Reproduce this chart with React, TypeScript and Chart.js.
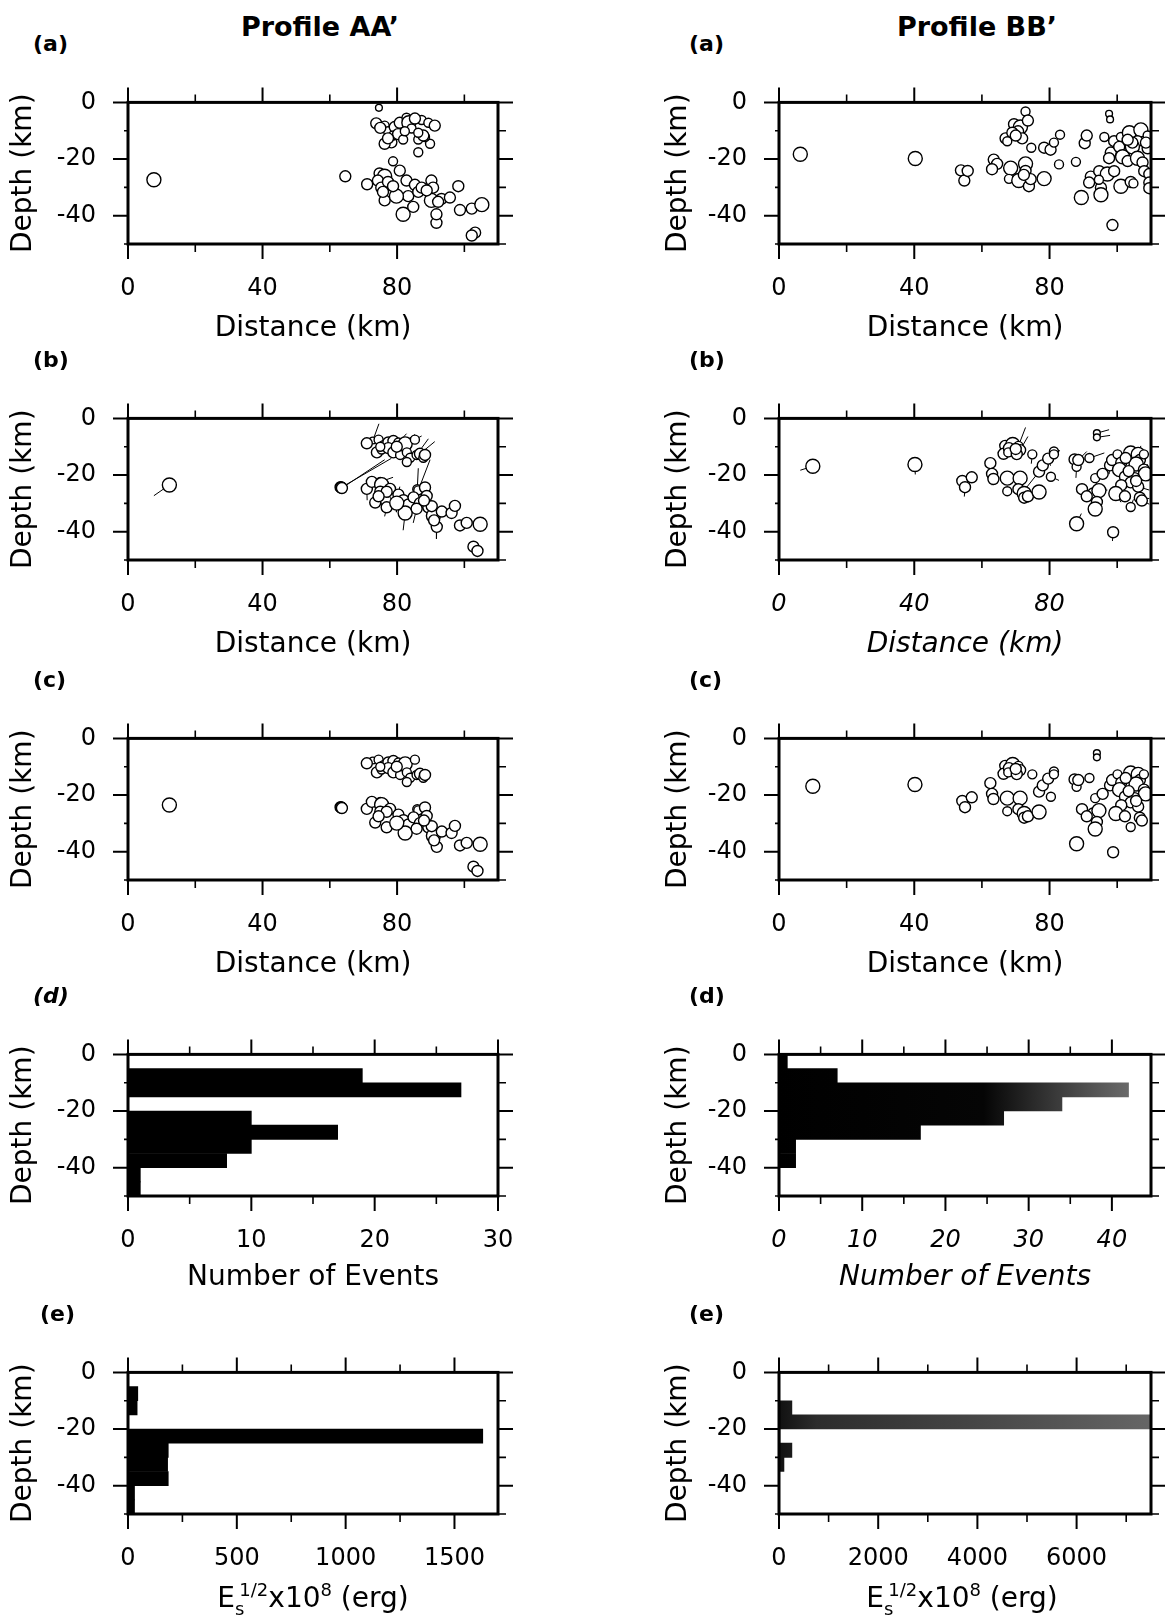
import React, { useEffect, useRef } from "react";
import { Chart, registerables } from "chart.js";

Chart.register(...registerables);

/* ======================= DATA ======================= */
// Profile AA' : catalogue hypocentres (panel a) and relocated hypocentres (panel c)
const aaCatDist = [7.7, 64.6, 74.6, 78.3, 76.3, 86.3, 89.8,
  73.8, 76.3, 77.3, 79.3, 80.8, 82.8, 83.5, 87.3, 75.0, 78.8, 80.3, 77.3, 81.8, 84.3, 86.3, 89.3, 91.2, 88.3, 87.8, 86.3, 82.3, 85.3,
  71.1, 74.8, 78.8, 76.3, 74.3, 75.3, 76.3, 77.3, 80.8, 82.8, 83.3, 81.8, 85.3, 86.3, 90.2, 87.3, 90.7, 90.2, 91.7, 93.2, 95.7, 98.2, 98.7, 102.2, 105.2, 103.2, 102.2, 79.8, 84.8, 78.8, 92.2, 91.7, 75.8, 88.8];
const aaCatDepth = [-27.3, -26.1, -1.9, -14.1, -14.6, -17.6, -14.6,
  -7.4, -8.2, -10.2, -8.7, -7.2, -5.4, -7.2, -6.2, -9.0, -11.7, -11.2, -12.7, -13.1, -9.2, -13.1, -7.2, -8.2, -12.2, -11.7, -10.7, -10.2, -5.7,
  -28.9, -25.1, -20.8, -26.1, -27.6, -30.1, -34.6, -28.1, -24.1, -27.6, -33.1, -39.5, -29.1, -31.6, -27.6, -30.1, -30.1, -34.6, -42.5, -34.1, -33.6, -29.6, -38.0, -37.5, -36.1, -46.0, -47.0, -33.1, -36.9, -29.6, -35.1, -39.5, -31.6, -31.1];
const aaRelDist = [12.3, 63.2, 72.8, 63.4, 63.6, 86.0, 86.3,
  71.0, 74.5, 75.9, 77.4, 78.9, 80.4, 82.4, 85.3, 74.0, 75.4, 77.4, 78.9, 80.9, 82.9, 83.9, 85.8, 86.8, 87.8, 88.3, 82.9, 75.0, 79.9,
  71.0, 72.5, 75.0, 75.4, 75.0, 73.5, 76.9, 77.9, 80.4, 81.9, 83.4, 82.4, 84.9, 86.8, 88.3, 88.8, 89.3, 90.8, 91.8, 93.3, 96.2, 97.2, 98.7, 100.7, 104.7, 102.7, 103.9, 79.9, 85.8, 76.9, 90.3, 91.0, 74.5, 88.0];
const aaRelDepth = [-23.5, -24.3, -7.8, -24.4, -24.6, -25.0, -25.4,
  -8.8, -7.5, -9.5, -8.5, -8.0, -8.5, -9.0, -7.5, -12.0, -11.0, -10.5, -12.0, -12.9, -12.0, -13.9, -12.9, -12.5, -13.9, -12.9, -15.4, -10.0, -10.0,
  -24.9, -22.4, -22.4, -23.4, -25.9, -29.7, -31.4, -24.9, -26.9, -28.9, -30.4, -33.4, -27.9, -29.9, -24.4, -27.4, -31.4, -34.4, -38.3, -32.9, -33.4, -30.9, -37.8, -36.9, -37.4, -45.3, -46.8, -29.9, -31.9, -25.9, -31.0, -36.0, -27.5, -29.0];
const aaMagClass = [4, 3, 1, 3, 3, 2, 2,
  3, 2, 2, 3, 3, 2, 4, 2, 3, 2, 3, 3, 2, 2, 2, 2, 3, 2, 3, 2, 2, 3,
  3, 3, 2, 4, 3, 3, 3, 3, 3, 3, 3, 4, 3, 3, 3, 3, 3, 4, 3, 3, 3, 3, 3, 3, 4, 3, 3, 4, 3, 3, 3, 3, 3, 3];

// Profile BB'
const bbCatDist = [6.3, 40.3, 53.8, 54.8, 55.8, 63.5, 64.5, 63.0, 68.5, 72.9,
  68.0, 72.9, 70.9, 73.9, 74.4, 78.4, 72.4, 82.8, 69.5, 71.4,
  72.9, 67.0, 70.7, 73.6, 74.6, 78.4, 80.3, 83.1, 81.3, 90.4,
  87.8, 91.0, 96.2, 97.6, 97.9, 69.0, 67.5, 71.9, 70.0, 92.2,
  94.7, 97.1, 95.2, 95.2, 89.4, 98.6, 94.6, 98.1, 97.6, 99.1,
  101.1, 100.6, 101.6, 103.1, 103.6, 107.0, 106.0, 109.0, 104.5, 109.0,
  106.0, 107.5, 108.0, 109.5, 99.1, 101.1, 104.0, 109.5, 109.5, 104.8,
  108.5, 104.5, 91.7, 103.1];
const bbCatDepth = [-18.3, -19.8, -24.0, -27.6, -24.2, -20.2, -21.7, -23.6, -23.2, -21.7,
  -27.0, -24.2, -27.6, -29.6, -27.1, -26.9, -25.6, -21.9, -7.7, -8.7,
  -3.2, -12.7, -10.2, -6.4, -16.0, -16.0, -16.7, -11.4, -14.2, -14.4,
  -21.0, -11.7, -12.2, -4.0, -6.0, -10.7, -13.7, -12.7, -11.7, -26.2,
  -24.3, -25.3, -30.1, -32.6, -33.6, -43.3, -27.3, -17.7, -19.7, -13.7,
  -12.2, -15.7, -19.2, -20.7, -10.7, -9.7, -13.7, -11.7, -15.7, -16.2,
  -19.7, -21.2, -24.3, -25.3, -24.3, -29.6, -28.1, -28.3, -30.3, -28.6,
  -14.2, -14.2, -28.3, -13.2];
const bbRelDist = [10.0, 40.2, 54.2, 55.0, 57.0, 62.5, 63.0, 63.4, 67.5, 71.3,
  67.5, 70.8, 72.5, 72.5, 73.6, 76.9, 76.9, 80.4, 66.9, 69.1,
  70.8, 66.4, 69.7, 71.3, 74.9, 78.0, 79.6, 81.3, 81.3, 87.4,
  88.0, 88.5, 91.8, 94.0, 94.0, 68.0, 67.8, 70.3, 70.0, 89.6,
  92.9, 94.6, 94.0, 93.5, 88.0, 98.8, 93.5, 95.7, 97.9, 98.5,
  100.1, 101.2, 100.7, 102.3, 104.0, 106.2, 106.7, 107.9, 105.6, 107.9,
  108.4, 105.1, 104.0, 106.2, 101.2, 99.6, 102.3, 106.7, 107.3, 104.0,
  105.6, 103.4, 91.0, 102.5];
const bbRelDepth = [-16.9, -16.3, -22.1, -24.3, -20.8, -15.8, -19.6, -21.4, -21.1, -21.1,
  -25.7, -25.0, -26.5, -28.0, -27.5, -26.0, -18.8, -20.6, -9.7, -9.2,
  -9.7, -12.5, -11.7, -11.2, -12.7, -16.6, -14.2, -11.7, -12.7, -14.5,
  -17.1, -14.7, -14.0, -5.2, -6.7, -10.5, -12.0, -12.6, -10.8, -25.0,
  -26.5, -25.5, -29.5, -32.0, -37.2, -40.2, -21.1, -19.6, -16.6, -14.7,
  -12.7, -15.6, -18.1, -20.6, -12.2, -12.7, -14.7, -12.7, -16.1, -18.1,
  -19.6, -21.1, -22.6, -24.1, -23.6, -26.5, -27.5, -28.0, -29.0, -31.3,
  -22.1, -18.6, -27.5, -14.0];
const bbMagClass = [4, 4, 3, 3, 3, 3, 3, 3, 4, 4,
  2, 3, 4, 3, 3, 4, 3, 2, 3, 4,
  2, 3, 3, 3, 2, 3, 3, 2, 2, 3,
  2, 3, 2, 1, 1, 3, 2, 3, 3, 3,
  3, 4, 3, 4, 4, 3, 2, 3, 3, 3,
  2, 3, 4, 3, 4, 4, 3, 2, 4, 3,
  4, 3, 3, 3, 3, 4, 3, 3, 3, 2,
  3, 3, 3, 3];

// Depth histograms (5 km bins)
const depthBins = [-2.5, -7.5, -12.5, -17.5, -22.5, -27.5, -32.5, -37.5, -42.5, -47.5];
const aaEventCounts = [0, 19, 27, 0, 10, 17, 10, 8, 1, 1];
const bbEventCounts = [1, 7, 42, 34, 27, 17, 2, 2, 0, 0];
const aaEnergySqrt = [0, 45, 42, 0, 1630, 185, 182, 185, 30, 30];
const bbEnergySqrt = [0, 0, 260, 7500, 20, 260, 100, 0, 0, 0];

// Tick values
const depthTicks = [0, -20, -40];
const depthMinor = [-10, -30, -50];
const distTicks = [0, 40, 80];
const distMinor = [20, 60, 100];
const aaCountTicks = [0, 10, 20, 30];
const aaCountMinor = [5, 15, 25];
const bbCountTicks = [0, 10, 20, 30, 40];
const bbCountMinor = [5, 15, 25, 35];
const aaEnergyTicks = [0, 500, 1000, 1500];
const aaEnergyMinor = [250, 750, 1250];
const bbEnergyTicks = [0, 2000, 4000, 6000];
const bbEnergyMinor = [1000, 3000, 5000, 7000];

/* ======================= LAYOUT ======================= */
const FONT = "'DejaVu Sans', 'Liberation Sans', Arial, sans-serif";
const COLUMNS = [
  { x0: 0, w: 582, L: 128, R: 498 },
  { x0: 582, w: 583, L: 779, R: 1151 },
];
const ROW_TOP = [76, 392, 712, 1028, 1346];
const PLOT_H = 168;
const PAD_TOP = 20;
const CANVAS_H = 300;
const MAG_RADIUS = [0, 3.4, 4.5, 5.5, 7.0];

type Spec = {
  id: string;
  col: number;
  row: number;
  kind: "points" | "vectors" | "hist";
  xMax: number;
  xTicks: number[];
  xMinor: number[];
  xTitle: string | null;
  titleMid: number;
  italic?: boolean;
  dist?: number[];
  depth?: number[];
  fromDist?: number[];
  fromDepth?: number[];
  mag?: number[];
  values?: number[];
  shade?: "black" | "fadeCount" | "fadeEnergy";
};

const SPECS: Spec[] = [
  { id: "aa-a", col: 0, row: 0, kind: "points", xMax: 110, xTicks: distTicks, xMinor: distMinor, xTitle: "Distance (km)", titleMid: 85, dist: aaCatDist, depth: aaCatDepth, mag: aaMagClass },
  { id: "aa-b", col: 0, row: 1, kind: "vectors", xMax: 110, xTicks: distTicks, xMinor: distMinor, xTitle: "Distance (km)", titleMid: 85, dist: aaRelDist, depth: aaRelDepth, fromDist: aaCatDist, fromDepth: aaCatDepth, mag: aaMagClass },
  { id: "aa-c", col: 0, row: 2, kind: "points", xMax: 110, xTicks: distTicks, xMinor: distMinor, xTitle: "Distance (km)", titleMid: 85, dist: aaRelDist, depth: aaRelDepth, mag: aaMagClass },
  { id: "aa-d", col: 0, row: 3, kind: "hist", xMax: 30, xTicks: aaCountTicks, xMinor: aaCountMinor, xTitle: "Number of Events", titleMid: 82, values: aaEventCounts, shade: "black" },
  { id: "aa-e", col: 0, row: 4, kind: "hist", xMax: 1700, xTicks: aaEnergyTicks, xMinor: aaEnergyMinor, xTitle: null, titleMid: 85, values: aaEnergySqrt, shade: "black" },
  { id: "bb-a", col: 1, row: 0, kind: "points", xMax: 110, xTicks: distTicks, xMinor: distMinor, xTitle: "Distance (km)", titleMid: 85, dist: bbCatDist, depth: bbCatDepth, mag: bbMagClass },
  { id: "bb-b", col: 1, row: 1, kind: "vectors", xMax: 110, xTicks: distTicks, xMinor: distMinor, xTitle: "Distance (km)", titleMid: 85, italic: true, dist: bbRelDist, depth: bbRelDepth, fromDist: bbCatDist, fromDepth: bbCatDepth, mag: bbMagClass },
  { id: "bb-c", col: 1, row: 2, kind: "points", xMax: 110, xTicks: distTicks, xMinor: distMinor, xTitle: "Distance (km)", titleMid: 85, dist: bbRelDist, depth: bbRelDepth, mag: bbMagClass },
  { id: "bb-d", col: 1, row: 3, kind: "hist", xMax: 44.7, xTicks: bbCountTicks, xMinor: bbCountMinor, xTitle: "Number of Events", titleMid: 82, italic: true, values: bbEventCounts, shade: "fadeCount" },
  { id: "bb-e", col: 1, row: 4, kind: "hist", xMax: 7500, xTicks: bbEnergyTicks, xMinor: bbEnergyMinor, xTitle: null, titleMid: 85, values: bbEnergySqrt, shade: "fadeEnergy" },
];

/* ======================= CHART BUILDING ======================= */
function makeFrame(s: Spec) {
  return {
    id: "frameTicks",
    afterDraw(chart: any) {
      const { ctx, chartArea } = chart;
      if (!chartArea) return;
      const { left, right, top, bottom } = chartArea;
      const xs = chart.scales.x;
      const ys = chart.scales.y;
      ctx.save();
      ctx.strokeStyle = "#000";
      ctx.lineCap = "butt";
      const xMarks = (vals: number[], len: number, w: number) => {
        ctx.lineWidth = w;
        ctx.beginPath();
        vals.forEach((v) => {
          const p = xs.getPixelForValue(v);
          ctx.moveTo(p, top);
          ctx.lineTo(p, top - len);
          ctx.moveTo(p, bottom);
          ctx.lineTo(p, bottom + len);
        });
        ctx.stroke();
      };
      const yMarks = (vals: number[], lenL: number, lenR: number, w: number) => {
        ctx.lineWidth = w;
        ctx.beginPath();
        vals.forEach((v) => {
          const p = ys.getPixelForValue(v);
          ctx.moveTo(left, p);
          ctx.lineTo(left - lenL, p);
          ctx.moveTo(right, p);
          ctx.lineTo(right + lenR, p);
        });
        ctx.stroke();
      };
      xMarks(s.xTicks, 15, 2);
      xMarks(s.xMinor, 8, 1.6);
      yMarks(depthTicks, 15, 15, 2);
      yMarks(depthMinor, 4, 8, 1.6);
      ctx.lineWidth = 3;
      ctx.strokeRect(left, top, right - left, bottom - top);
      ctx.restore();
    },
  };
}

function shadeFn(shade: string) {
  return (c: any) => {
    if (shade === "black") return "#000";
    const area = c.chart.chartArea;
    if (!area) return "#000";
    const g = c.chart.ctx.createLinearGradient(area.left, 0, area.right, 0);
    if (shade === "fadeCount") {
      g.addColorStop(0, "#000");
      g.addColorStop(0.55, "#050505");
      g.addColorStop(0.7, "#2e2e2e");
      g.addColorStop(0.85, "#555");
      g.addColorStop(1, "#777");
    } else {
      g.addColorStop(0, "#111");
      g.addColorStop(0.1, "#2c2c2c");
      g.addColorStop(0.5, "#444");
      g.addColorStop(1, "#666");
    }
    return g;
  };
}

function buildConfig(s: Spec): any {
  const col = COLUMNS[s.col];
  const style = s.italic ? "italic" : "normal";
  const tickFont = { family: FONT, size: 24, style };
  const titleFont = { family: FONT, size: 28, style };
  const yTickFont = { family: FONT, size: 24 };
  const yTitleFont = { family: FONT, size: 28 };
  const titleLine = 28 * 1.2;
  const canvasPlotBottom = PAD_TOP + PLOT_H;
  let type = "scatter";
  let datasets: any[] = [];
  const extra: any = {};
  if (s.kind === "hist") {
    type = "bar";
    extra.indexAxis = "y";
    datasets = [
      {
        data: (s.values as number[]).map((v, i) => ({ x: v, y: depthBins[i] })),
        backgroundColor: shadeFn(s.shade as string),
        borderWidth: 0,
        barPercentage: 1,
        categoryPercentage: 1,
      },
    ];
  } else {
    const dist = s.dist as number[];
    const depth = s.depth as number[];
    const radii = (s.mag as number[]).map((m) => MAG_RADIUS[m]);
    datasets.push({
      data: dist.map((x, i) => ({ x, y: depth[i] })),
      pointRadius: radii,
      pointHoverRadius: radii,
      pointBackgroundColor: "#fff",
      pointBorderColor: "#000",
      pointBorderWidth: 1.4,
      clip: 0,
      order: 0,
    });
    if (s.kind === "vectors") {
      const fx = s.fromDist as number[];
      const fy = s.fromDepth as number[];
      const segs: any[] = [];
      dist.forEach((x, i) => {
        segs.push({ x, y: depth[i] }, { x: fx[i], y: fy[i] }, { x: null, y: null });
      });
      datasets.push({
        data: segs,
        showLine: true,
        spanGaps: false,
        borderColor: "#000",
        borderWidth: 1,
        pointRadius: 0,
        pointHoverRadius: 0,
        clip: 0,
        order: 1,
      });
    }
  }
  return {
    type,
    data: { datasets },
    plugins: [makeFrame(s)],
    options: {
      ...extra,
      animation: false,
      responsive: false,
      maintainAspectRatio: false,
      devicePixelRatio: 1,
      events: [],
      layout: { padding: { top: PAD_TOP, left: 0, right: col.x0 + col.w - col.R, bottom: 0 } },
      plugins: { legend: { display: false }, tooltip: { enabled: false }, title: { display: false } },
      scales: {
        x: {
          type: "linear",
          position: "bottom",
          min: 0,
          max: s.xMax,
          offset: false,
          grid: { display: false, drawTicks: false, offset: false },
          border: { display: false },
          afterFit: (sc: any) => {
            sc.height = CANVAS_H - canvasPlotBottom;
          },
          afterBuildTicks: (sc: any) => {
            sc.ticks = s.xTicks.map((v) => ({ value: v }));
          },
          ticks: {
            padding: 30,
            color: "#000",
            font: tickFont,
            autoSkip: false,
            maxRotation: 0,
            minRotation: 0,
            callback: (v: any) => String(v),
          },
          title: {
            display: !!s.xTitle,
            text: s.xTitle || "",
            color: "#000",
            font: titleFont,
            padding: { top: 0, bottom: CANVAS_H - canvasPlotBottom - s.titleMid - titleLine / 2 },
          },
        },
        y: {
          type: "linear",
          position: "left",
          min: -50,
          max: 0,
          offset: false,
          grid: { display: false, drawTicks: false, offset: false },
          border: { display: false },
          afterFit: (sc: any) => {
            sc.width = col.L - col.x0;
          },
          afterBuildTicks: (sc: any) => {
            sc.ticks = depthTicks.map((v) => ({ value: v }));
          },
          ticks: {
            padding: 32,
            color: "#000",
            font: yTickFont,
            autoSkip: false,
            callback: (v: any) => String(v),
          },
          title: {
            display: true,
            text: "Depth (km)",
            color: "#000",
            font: yTitleFont,
            padding: { top: (s.col === 0 ? 24 : 97) - titleLine / 2, bottom: 0 },
          },
        },
      },
    },
  };
}

function Panel({ spec }: { spec: Spec }) {
  const ref = useRef<HTMLCanvasElement | null>(null);
  useEffect(() => {
    if (!ref.current) return;
    const chart = new Chart(ref.current, buildConfig(spec));
    return () => chart.destroy();
  }, [spec]);
  const col = COLUMNS[spec.col];
  return (
    <canvas
      ref={ref}
      width={col.w}
      height={CANVAS_H}
      style={{ position: "absolute", left: col.x0, top: ROW_TOP[spec.row] - PAD_TOP, width: col.w, height: CANVAS_H }}
    />
  );
}

const textBase: React.CSSProperties = {
  position: "absolute",
  fontFamily: FONT,
  color: "#000",
  whiteSpace: "nowrap",
};

const PANEL_LETTERS = ["(a)", "(b)", "(c)", "(d)", "(e)"];

function EnergyLabel({ cx }: { cx: number }) {
  const small: React.CSSProperties = { fontSize: 18, position: "relative" };
  return (
    <div style={{ ...textBase, left: cx, top: 1584, transform: "translateX(-50%)", fontSize: 28, lineHeight: "28px" }}>
      E<span style={{ ...small, top: 8, marginRight: -5 }}>s</span>
      <span style={{ ...small, top: -11 }}>1/2</span>x10<span style={{ ...small, top: -11 }}>8</span> (erg)
    </div>
  );
}

export default function App() {
  return (
    <div style={{ position: "absolute", left: 0, top: 0, width: 1165, height: 1622, background: "#fff", overflow: "hidden" }}>
      {SPECS.map((s) => (
        <Panel key={s.id} spec={s} />
      ))}
      <div style={{ ...textBase, left: 320, top: 13, transform: "translateX(-50%)", fontSize: 27, fontWeight: "bold", lineHeight: "27px" }}>
        Profile AA’
      </div>
      <div style={{ ...textBase, left: 977, top: 13, transform: "translateX(-50%)", fontSize: 27, fontWeight: "bold", lineHeight: "27px" }}>
        Profile BB’
      </div>
      {ROW_TOP.map((t, r) => (
        <React.Fragment key={r}>
          <div style={{ ...textBase, left: r === 4 ? 40 : 33, top: t - 43, fontSize: 22, fontWeight: "bold", lineHeight: "22px", fontStyle: r === 3 ? "italic" : "normal" }}>
            {PANEL_LETTERS[r]}
          </div>
          <div style={{ ...textBase, left: 689, top: t - 43, fontSize: 22, fontWeight: "bold", lineHeight: "22px" }}>
            {PANEL_LETTERS[r]}
          </div>
        </React.Fragment>
      ))}
      <EnergyLabel cx={313} />
      <EnergyLabel cx={962} />
    </div>
  );
}
